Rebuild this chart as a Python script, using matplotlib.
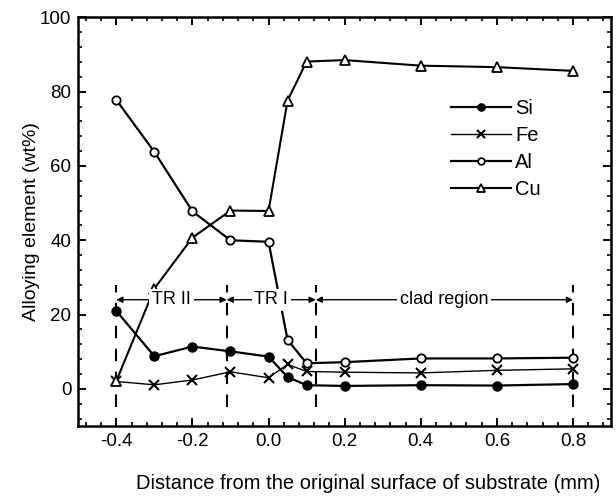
#!/usr/bin/env python3
"""Alloying element profile across the clad / substrate interface."""
import matplotlib
matplotlib.use("Agg")
import matplotlib.pyplot as plt
from matplotlib.ticker import MultipleLocator

# distance from the original substrate surface (mm)
X = [-0.4, -0.3, -0.2, -0.1, 0.0, 0.05, 0.1, 0.2, 0.4, 0.6, 0.8]

SI = [21.0, 8.8, 11.4, 10.1, 8.7, 3.2, 1.0, 0.8, 1.0, 0.9, 1.3]
FE = [2.0, 1.1, 2.4, 4.6, 3.0, 6.6, 4.7, 4.5, 4.3, 5.0, 5.4]
AL = [77.8, 63.8, 47.8, 40.0, 39.6, 13.2, 6.9, 7.2, 8.2, 8.2, 8.4]
CU = [2.1, 27.0, 40.7, 48.0, 47.9, 77.6, 88.1, 88.5, 87.0, 86.6, 85.6]

# region boundaries (dashed) and their labels
BOUNDS = [-0.4, -0.11, 0.124, 0.8]
REGIONS = ["TR II", "TR I", "clad region"]

FONT = "Liberation Sans"


def main():
    plt.rcParams.update({
        "font.family": FONT,
        "font.size": 13,
        "axes.linewidth": 1.8,
        "xtick.direction": "in", "ytick.direction": "in",
        "xtick.top": True, "ytick.right": True,
        "xtick.major.size": 6, "ytick.major.size": 6,
        "xtick.minor.size": 3, "ytick.minor.size": 3,
        "xtick.major.width": 1.4, "ytick.major.width": 1.4,
        "xtick.minor.width": 1.2, "ytick.minor.width": 1.2,
    })
    fig = plt.figure(figsize=(6.16, 4.96), dpi=100)
    ax = fig.add_axes([0.127, 0.141, 0.865, 0.824])

    ax.plot(X, SI, "-o", color="black", lw=1.6, ms=6.5, label="Si")
    ax.plot(X, FE, "-x", color="black", lw=1.0, ms=7, mew=1.5, label="Fe")
    ax.plot(X, AL, "-o", color="black", lw=1.6, ms=6, mfc="white",
            mew=1.3, label="Al")
    ax.plot(X, CU, "-^", color="black", lw=1.5, ms=6.5, mfc="white",
            mew=1.3, label="Cu")

    # dashed region boundaries + double-headed arrows with labels
    for b in BOUNDS:
        ax.plot([b, b], [-5, 28], color="black", lw=1.5,
                dashes=(6, 5), zorder=1)
    for (x0, x1), name in zip(zip(BOUNDS[:-1], BOUNDS[1:]), REGIONS):
        ax.annotate("", xy=(x0, 24), xytext=(x1, 24),
                    arrowprops=dict(arrowstyle="<|-|>", color="black",
                                    lw=1.0, mutation_scale=9,
                                    shrinkA=0, shrinkB=0))
        ax.text((x0 + x1) / 2, 24, name, ha="center", va="center",
                fontsize=13,
                bbox=dict(facecolor="white", edgecolor="none", pad=2))

    ax.set_xlim(-0.5, 0.9)
    ax.set_ylim(-10, 100)
    ax.xaxis.set_major_locator(MultipleLocator(0.2))
    ax.xaxis.set_minor_locator(MultipleLocator(0.04))
    ax.set_yticks([0, 20, 40, 60, 80, 100])
    ax.yaxis.set_minor_locator(MultipleLocator(4))
    ax.set_xticks([-0.4, -0.2, 0.0, 0.2, 0.4, 0.6, 0.8])
    ax.set_xticklabels(["-0.4", "-0.2", "0.0", "0.2", "0.4", "0.6", "0.8"])
    ax.tick_params(which="major", labelsize=13.5, pad=5)

    ax.set_xlabel("Distance from the original surface of substrate (mm)",
                  fontsize=14.5)
    ax.xaxis.set_label_coords(0.545, -0.118)
    ax.set_ylabel("Alloying element (wt%)", fontsize=14)
    ax.yaxis.set_label_coords(-0.072, 0.5)

    ax.legend(loc="upper left", bbox_to_anchor=(0.665, 0.845), frameon=False,
              fontsize=14.5, handlelength=3.0, handletextpad=0.2,
              labelspacing=0.4, markerscale=0.8)

    fig.savefig("out.png", dpi=100)


if __name__ == "__main__":
    main()
